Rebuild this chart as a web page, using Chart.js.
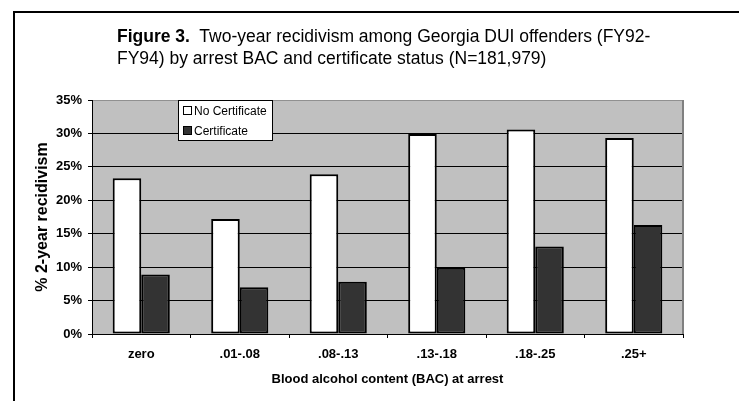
<!DOCTYPE html>
<html>
<head>
<meta charset="utf-8">
<script src="https://cdn.jsdelivr.net/npm/chart.js@4.4.1/dist/chart.umd.min.js"></script>
<style>
  html, body { margin: 0; padding: 0; background: #fff; overflow: hidden; }
  #wrap { position: relative; width: 739px; height: 401px; }
  #c { position: absolute; left: 0; top: 0; }
  #title {
    position: absolute; left: 117px; top: 25px;
    font-family: "Liberation Sans", Arial, sans-serif;
    font-size: 17.5px; line-height: 22px; color: #000; white-space: nowrap;
  }
</style>
</head>
<body>
<div id="wrap">
  <canvas id="c" width="739" height="401"></canvas>
  <div id="title"><b>Figure 3.</b>&nbsp; Two-year recidivism among Georgia DUI offenders (FY92-<br>FY94) by arrest BAC and certificate status (N=181,979)</div>
</div>
<script>
// BAC groups at arrest
const categories = ['zero', '.01-.08', '.08-.13', '.13-.18', '.18-.25', '.25+'];
// Two-year recidivism rates (%)
const noCertificate = [23.3, 17.2, 23.9, 29.9, 30.6, 29.3];
const certificate = [8.9, 7.0, 7.8, 9.9, 13.1, 16.3];
// Y axis tick range (%)
const yMin = 0, yMax = 35, yStep = 5;

const AXIS_FONT = 'Liberation Sans, Arial, sans-serif';

// Grey plot background, outer frame line, plot border and inset legend
const decor = {
  id: 'decor',
  beforeDraw(chart) {
    const { ctx, chartArea: a } = chart;
    ctx.save();
    ctx.fillStyle = '#c0c0c0';
    ctx.fillRect(a.left, a.top, a.right - a.left, a.bottom - a.top);
    // frame around the figure
    ctx.strokeStyle = '#000';
    ctx.lineWidth = 2;
    ctx.beginPath();
    ctx.moveTo(14, chart.height + 2);
    ctx.lineTo(14, 12);
    ctx.lineTo(chart.width + 2, 12);
    ctx.stroke();
    ctx.restore();
  },
  afterDatasetsDraw(chart) {
    const { ctx, chartArea: a } = chart;
    ctx.save();
    ctx.strokeStyle = '#808080';
    ctx.lineWidth = 2;
    ctx.beginPath();
    ctx.moveTo(a.right, a.top);
    ctx.lineTo(a.right, a.bottom);
    ctx.stroke();
    ctx.restore();
  },
  afterDraw(chart) {
    const { ctx } = chart;
    const box = { x: 178.5, y: 100.5, w: 94, h: 40 };
    ctx.save();
    ctx.fillStyle = '#fff';
    ctx.fillRect(box.x, box.y, box.w, box.h);
    ctx.strokeStyle = '#000';
    ctx.lineWidth = 1;
    ctx.strokeRect(box.x, box.y, box.w, box.h);
    ctx.font = '12px ' + AXIS_FONT;
    ctx.textBaseline = 'middle';
    chart.data.datasets.forEach((ds, i) => {
      const cy = 111 + i * 20;
      ctx.fillStyle = ds.backgroundColor;
      ctx.fillRect(183.5, cy - 4.5, 8, 8);
      ctx.strokeStyle = '#000';
      ctx.strokeRect(183.5, cy - 4.5, 8, 8);
      ctx.fillStyle = '#000';
      ctx.fillText(ds.label, 194, cy + 0.5);
    });
    ctx.restore();
  }
};

new Chart(document.getElementById('c'), {
  type: 'bar',
  data: {
    labels: categories,
    datasets: [
      { label: 'No Certificate', data: noCertificate, backgroundColor: '#ffffff',
        borderColor: '#000', borderWidth: 2, borderSkipped: false },
      { label: 'Certificate', data: certificate, backgroundColor: '#333333',
        borderColor: '#000', borderWidth: 2, borderSkipped: false }
    ]
  },
  options: {
    responsive: false,
    animation: false,
    layout: { padding: { left: 0, right: 56, top: 100, bottom: 0 } },
    datasets: { bar: { categoryPercentage: 0.58, barPercentage: 1.0 } },
    plugins: { legend: { display: false }, tooltip: { enabled: false } },
    scales: {
      x: {
        afterFit(scale) { scale.height = 67; },
        grid: { offset: true, drawOnChartArea: false, drawTicks: true, tickLength: 4, color: '#000' },
        border: { display: true, color: '#000', width: 1 },
        ticks: { color: '#000', padding: 9, font: { family: AXIS_FONT, size: 13, weight: 'bold' } },
        title: { display: true, text: 'Blood alcohol content (BAC) at arrest', color: '#000',
          font: { family: AXIS_FONT, size: 13, weight: 'bold' }, padding: { top: 0, bottom: 14 } }
      },
      y: {
        min: yMin, max: yMax,
        afterFit(scale) { scale.width = 92; },
        grid: {
          color: (c) => (c.tick && c.tick.value === yMax) ? '#909090' : '#000',
          tickColor: '#000', tickLength: 4, lineWidth: 1
        },
        border: { display: true, color: '#000', width: 1 },
        ticks: { stepSize: yStep, color: '#000', padding: 6,
          font: { family: AXIS_FONT, size: 13, weight: 'bold' },
          callback: (v) => v + '%' },
        title: { display: true, text: '% 2-year recidivism', color: '#000',
          font: { family: AXIS_FONT, size: 16, weight: 'bold' }, padding: { top: 33, bottom: 0 } }
      }
    }
  },
  plugins: [decor]
});
</script>
</body>
</html>
